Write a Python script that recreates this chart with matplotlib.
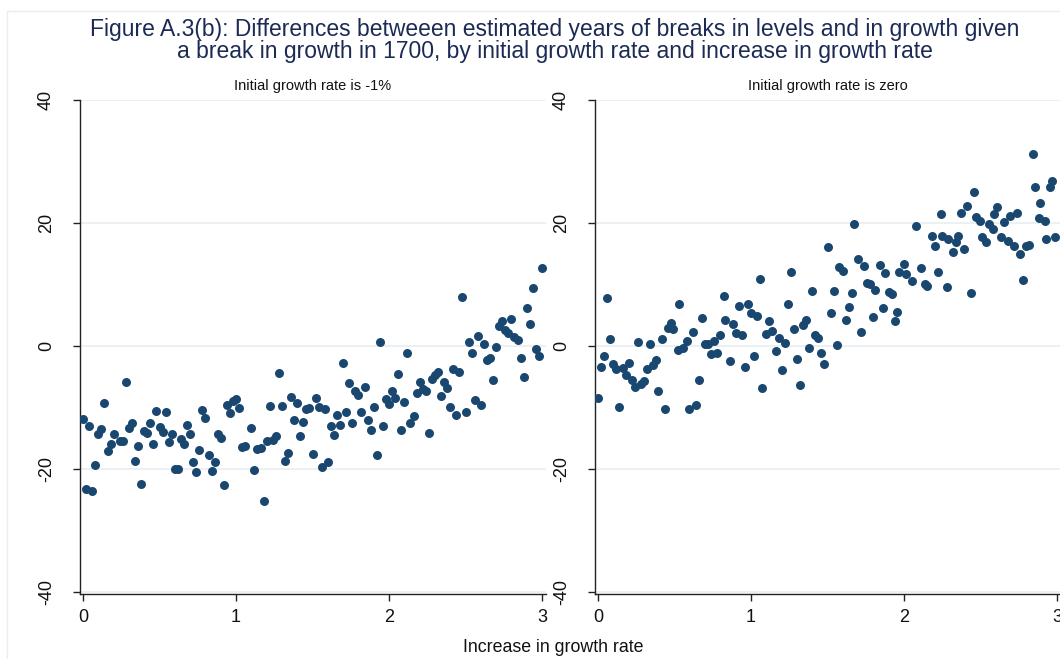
import matplotlib
matplotlib.use('Agg')
import matplotlib.pyplot as plt
from matplotlib.patches import Rectangle

plt.rcParams['font.family'] = ['Liberation Sans', 'DejaVu Sans']

# ---------------- data ----------------
left_x = [0.00, 0.02, 0.04, 0.06, 0.08, 0.10, 0.12, 0.14, 0.16, 0.18,
          0.20, 0.24, 0.26, 0.28, 0.30, 0.32, 0.34, 0.36, 0.38, 0.40,
          0.42, 0.44, 0.46, 0.48, 0.50, 0.52, 0.54, 0.56, 0.58, 0.60,
          0.62, 0.64, 0.66, 0.68, 0.70, 0.72, 0.74, 0.76, 0.78, 0.80,
          0.82, 0.84, 0.86, 0.88, 0.90, 0.92, 0.94, 0.96, 0.98, 1.00,
          1.02, 1.04, 1.06, 1.10, 1.12, 1.14, 1.16, 1.18, 1.20, 1.22,
          1.24, 1.26, 1.28, 1.30, 1.32, 1.34, 1.36, 1.38, 1.40, 1.42,
          1.44, 1.46, 1.48, 1.50, 1.52, 1.54, 1.56, 1.58, 1.60, 1.62,
          1.64, 1.66, 1.68, 1.70, 1.72, 1.74, 1.76, 1.78, 1.80, 1.82,
          1.84, 1.86, 1.88, 1.90, 1.92, 1.94, 1.96, 1.98, 2.00, 2.02,
          2.04, 2.06, 2.08, 2.10, 2.12, 2.14, 2.16, 2.18, 2.20, 2.22,
          2.24, 2.26, 2.28, 2.30, 2.32, 2.34, 2.36, 2.38, 2.40, 2.42,
          2.44, 2.46, 2.48, 2.50, 2.52, 2.54, 2.56, 2.58, 2.60, 2.62,
          2.64, 2.66, 2.68, 2.70, 2.72, 2.74, 2.76, 2.78, 2.80, 2.82,
          2.84, 2.86, 2.88, 2.90, 2.92, 2.94, 2.96, 2.98, 3.00]
left_y = [-11.8, -23.3, -13.0, -23.5, -19.3, -14.3, -13.5, -9.3, -17.1, -15.9,
          -14.3, -15.5, -15.5, -5.8, -13.4, -12.6, -18.7, -16.3, -22.5, -13.9,
          -14.1, -12.6, -16.0, -10.6, -13.1, -14.0, -10.7, -15.6, -14.3, -20.0,
          -20.0, -15.2, -15.9, -12.8, -14.3, -18.8, -20.5, -16.9, -10.4, -11.7,
          -17.8, -20.3, -18.9, -14.3, -15.0, -22.6, -9.6, -10.9, -9.0, -8.6,
          -10.1, -16.5, -16.2, -13.4, -20.1, -16.7, -16.6, -25.2, -15.4, -9.7,
          -15.3, -14.6, -4.4, -9.8, -18.7, -17.4, -8.3, -12.1, -9.2, -14.7,
          -12.3, -10.2, -10.1, -17.6, -8.4, -9.9, -19.7, -10.2, -18.8, -13.0,
          -14.4, -11.2, -12.9, -2.8, -10.7, -6.1, -12.5, -7.3, -8.0, -10.8,
          -6.7, -12.0, -13.6, -10.0, -17.8, 0.6, -13.0, -8.6, -9.5, -7.4,
          -8.5, -4.6, -13.7, -9.1, -1.2, -12.5, -11.4, -7.7, -5.8, -7.0,
          -7.4, -14.1, -5.3, -4.7, -4.3, -8.1, -5.8, -6.9, -9.9, -3.8,
          -11.3, -4.2, 7.9, -10.7, 0.65, -1.1, -8.8, 1.7, -9.6, 0.3,
          -2.3, -2.0, -5.5, -0.1, 3.3, 4.1, 2.6, 2.1, 4.4, 1.4,
          1.0, -2.0, -5.1, 6.2, 3.6, 9.4, -0.5, -1.6, 12.7]

right_x = [0.00, 0.02, 0.04, 0.06, 0.08, 0.10, 0.12, 0.14, 0.16, 0.18,
           0.20, 0.22, 0.24, 0.26, 0.28, 0.30, 0.32, 0.34, 0.36, 0.38,
           0.39, 0.42, 0.44, 0.455, 0.48, 0.49, 0.52, 0.53, 0.555, 0.58,
           0.595, 0.62, 0.64, 0.66, 0.68, 0.70, 0.72, 0.74, 0.76, 0.78,
           0.80, 0.82, 0.83, 0.86, 0.88, 0.90, 0.92, 0.94, 0.96, 0.98,
           1.00, 1.02, 1.04, 1.06, 1.07, 1.10, 1.12, 1.14, 1.16, 1.18,
           1.20, 1.22, 1.24, 1.26, 1.28, 1.30, 1.32, 1.34, 1.36, 1.38,
           1.40, 1.42, 1.44, 1.46, 1.48, 1.50, 1.52, 1.54, 1.56, 1.575,
           1.60, 1.62, 1.64, 1.66, 1.675, 1.70, 1.72, 1.74, 1.76, 1.78,
           1.80, 1.81, 1.84, 1.86, 1.875, 1.90, 1.92, 1.94, 1.955, 1.97,
           2.00, 2.015, 2.05, 2.08, 2.11, 2.135, 2.15, 2.18, 2.20, 2.22,
           2.24, 2.25, 2.28, 2.29, 2.32, 2.34, 2.355, 2.375, 2.39, 2.41,
           2.435, 2.455, 2.47, 2.495, 2.51, 2.535, 2.555, 2.58, 2.59, 2.61,
           2.635, 2.655, 2.68, 2.695, 2.72, 2.74, 2.76, 2.78, 2.80, 2.82,
           2.84, 2.855, 2.88, 2.89, 2.92, 2.93, 2.955, 2.97, 2.99]
right_y = [-8.4, -3.4, -1.6, 7.8, 1.2, -2.9, -3.7, -9.9, -3.5, -4.7,
           -2.7, -5.6, -6.6, 0.7, -6.2, -5.7, -3.8, 0.3, -3.1, -2.2,
           -7.4, 1.2, -10.2, 3.0, 3.7, 2.8, -0.7, 6.8, -0.3, 0.8,
           -10.2, 2.2, -9.6, -5.6, 4.6, 0.3, 0.4, -1.3, 0.8, -1.1,
           1.8, 8.2, 4.2, -2.4, 3.5, 2.1, 6.5, 1.8, -3.4, 6.8,
           5.4, -1.7, 4.8, 10.9, -6.9, 2.0, 4.0, 2.5, -0.8, 1.3,
           -3.9, 0.5, 6.8, 12.1, 2.8, -2.1, -6.4, 3.4, 4.3, -0.4,
           8.9, 1.8, 1.3, -1.1, -3.0, 16.1, 5.3, 8.9, 0.1, 12.8,
           12.2, 4.3, 6.4, 8.6, 19.8, 14.2, 2.2, 13.0, 10.2, 10.0,
           4.7, 9.1, 13.1, 6.2, 11.9, 8.7, 8.5, 4.1, 5.6, 12.1,
           13.3, 11.7, 10.6, 19.5, 12.7, 10.0, 9.8, 17.9, 16.3, 12.1,
           21.5, 17.9, 9.6, 17.4, 15.3, 16.9, 17.9, 21.7, 15.8, 22.7,
           8.6, 25.1, 20.9, 20.4, 17.8, 16.9, 19.9, 19.0, 21.4, 22.6,
           17.7, 20.1, 17.1, 21.1, 16.3, 21.7, 14.9, 10.8, 16.3, 16.5,
           31.2, 25.8, 20.8, 23.3, 20.4, 17.4, 25.8, 26.9, 17.8]

panel_titles = ["Initial growth rate is -1%", "Initial growth rate is zero"]
x_ticks = [0, 1, 2, 3]
y_ticks = [-40, -20, 0, 20, 40]
title_lines = ["Figure A.3(b): Differences betweeen estimated years of breaks in levels and in growth given",
               "a break in growth in 1700, by initial growth rate and increase in growth rate"]
x_label = "Increase in growth rate"

# ---------------- figure ----------------
W, H = 1060, 659
fig = plt.figure(figsize=(W / 100, H / 100), dpi=100)
fig.patch.set_facecolor('white')

def px_rect(x0, y0, x1, y1):
    return [x0 / W, 1 - y1 / H, (x1 - x0) / W, (y1 - y0) / H]

# faint outer frame
fig.patches.append(Rectangle((7 / W, -0.05), 1.1, 1 - 11 / H + 0.05,
                             transform=fig.transFigure, fill=False,
                             edgecolor='#e8edf0', linewidth=1.0))

NAVY = '#1a476f'
TITLE_C = '#1c2b55'

axes = [fig.add_axes(px_rect(80, 100, 546, 594)),
        fig.add_axes(px_rect(595, 100, 1061, 594))]
data = [(left_x, left_y), (right_x, right_y)]

for ax, (xs, ys), ttl in zip(axes, data, panel_titles):
    ax.scatter(xs, ys, s=42, color=NAVY, linewidths=0, zorder=3)
    ax.set_xlim(-0.02, 3.026)
    ax.set_ylim(-40.33, 40)
    ax.set_xticks(x_ticks)
    ax.set_yticks(y_ticks)
    ax.set_xticklabels([str(t) for t in x_ticks])
    ax.set_yticklabels([str(t) for t in y_ticks], rotation=90, va='center')
    for s in ['top', 'right']:
        ax.spines[s].set_visible(False)
    for s in ['left', 'bottom']:
        ax.spines[s].set_color('#222222')
        ax.spines[s].set_linewidth(1.0)
    ax.yaxis.grid(True, color='#e6edf0', linewidth=1.1)
    ax.set_axisbelow(True)
    ax.tick_params(axis='both', direction='out', length=5, width=1,
                   color='#222222', labelsize=13, labelcolor='#111111')
    ax.tick_params(axis='y', pad=13)
    ax.tick_params(axis='x', pad=6)
    ax.text(0.5, 1 + 14 / 494, ttl, transform=ax.transAxes, ha='center',
            va='center', fontsize=10.5, color='#111111')
    ax.patch.set_alpha(0)

fig.text(555 / W, 1 - 40.5 / H, "\n".join(title_lines), ha='center',
         va='center', multialignment='center', linespacing=0.93,
         fontsize=16.5, color=TITLE_C)
fig.text(553 / W, 1 - 648 / H, x_label, ha='center', va='center',
         fontsize=12.8, color='#111111')

fig.savefig('out.png', dpi=100)
